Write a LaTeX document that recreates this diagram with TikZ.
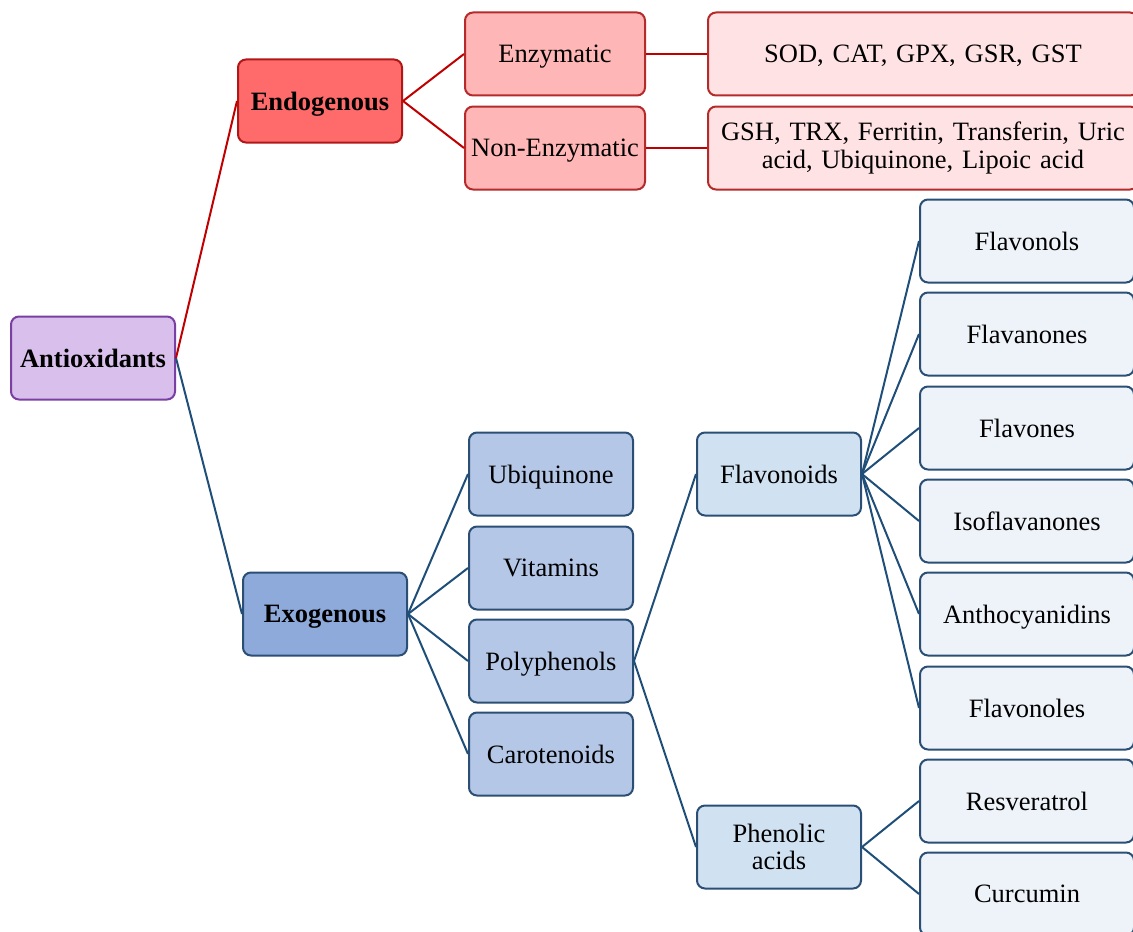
\documentclass[tikz,border=0pt]{standalone}
\usepackage{fontspec}
\setmainfont{Liberation Serif}
\usepackage{tikz}
\usetikzlibrary{positioning}
\definecolor{rootfill}{HTML}{D9BFEC}
\definecolor{rootline}{HTML}{7A3FA3}
\definecolor{endofill}{HTML}{FF6B6B}
\definecolor{endoline}{HTML}{B01818}
\definecolor{enzfill}{HTML}{FFB6B6}
\definecolor{enzline}{HTML}{B52A2A}
\definecolor{itemfill}{HTML}{FFE3E4}
\definecolor{redlink}{HTML}{C00000}
\definecolor{exofill}{HTML}{8EAADB}
\definecolor{exoline}{HTML}{2B4F74}
\definecolor{subfill}{HTML}{B4C7E7}
\definecolor{flavfill}{HTML}{D0E1F2}
\definecolor{leaffill}{HTML}{EEF3FA}
\definecolor{bluelink}{HTML}{1F4E79}
\tikzset{
	box/.style={rectangle, rounded corners=4pt, line width=1pt, minimum width=82pt, minimum height=41.5pt, align=center, inner sep=2pt, text depth=0pt, font=\fontsize{13.25}{13.6}\selectfont},
	rootbox/.style={box, draw=rootline, fill=rootfill, font=\fontsize{13.25}{13.6}\selectfont\bfseries},
	endobox/.style={box, draw=endoline, fill=endofill, font=\fontsize{13.25}{13.6}\selectfont\bfseries},
	enzbox/.style={box, draw=enzline, fill=enzfill, minimum width=90pt},
	itembox/.style={box, draw=enzline, fill=itemfill, minimum width=215pt, text width=205pt},
	exobox/.style={box, draw=exoline, fill=exofill, font=\fontsize{13.25}{13.6}\selectfont\bfseries},
	subbox/.style={box, draw=exoline, fill=subfill},
	flavbox/.style={box, draw=exoline, fill=flavfill, text width=76pt},
	leafbox/.style={box, draw=exoline, fill=leaffill, minimum width=107pt},
	redline/.style={draw=redlink, line width=1pt},
	blueline/.style={draw=bluelink, line width=1pt}
}

\begin{document}
\begin{tikzpicture}[x=0.5pt, y=-0.5pt]
	\clip (0,0) rectangle (1133,931);
	
	% Wurzel und erste Ebene
	\node[rootbox] (antiox) at (93,358) {Antioxidants};
	\node[endobox] (endo) at (320,101) {Endogenous};
	\node[exobox] (exo) at (325,614) {Exogenous};
	
	% Endogene Zweige
	\node[enzbox] (enz) at (555,54) {Enzymatic};
	\node[enzbox] (nonenz) at (555,148) {Non-Enzymatic};
	\node[itembox] (enzlist) at (923,54) {SOD, CAT, GPX, GSR, GST};
	\node[itembox, text depth=] (nonenzlist) at (923,148) {GSH, TRX, Ferritin, Transferin, Uric\\acid, Ubiquinone, Lipoic acid};
	
	% Exogene Zweige
	\node[subbox] (ubiq) at (551,474) {Ubiquinone};
	\node[subbox] (vit) at (551,568) {Vitamins};
	\node[subbox] (poly) at (551,661) {Polyphenols};
	\node[subbox] (carot) at (551,754) {Carotenoids};
	\node[flavbox] (flavo) at (779,474) {Flavonoids};
	\node[flavbox, text depth=] (phenol) at (779,847) {Phenolic\\acids};
	
	% Rechte Spalte
	\node[leafbox] (flavonols) at (1027,241) {Flavonols};
	\node[leafbox] (flavanones) at (1027,334) {Flavanones};
	\node[leafbox] (flavones) at (1027,428) {Flavones};
	\node[leafbox] (isoflav) at (1027,521) {Isoflavanones};
	\node[leafbox] (antho) at (1027,614) {Anthocyanidins};
	\node[leafbox] (flavonoles) at (1027,708) {Flavonoles};
	\node[leafbox] (resv) at (1027,801) {Resveratrol};
	\node[leafbox] (curc) at (1027,894) {Curcumin};
	
	% Verbindungen
	\draw[redline] (antiox.east) -- (endo.west);
	\draw[blueline] (antiox.east) -- (exo.west);
	\draw[redline] (endo.east) -- (enz.west);
	\draw[redline] (endo.east) -- (nonenz.west);
	\draw[redline] (enz.east) -- (enzlist.west);
	\draw[redline] (nonenz.east) -- (nonenzlist.west);
	\foreach \n in {ubiq,vit,poly,carot}
		\draw[blueline] (exo.east) -- (\n.west);
	\draw[blueline] (poly.east) -- (flavo.west);
	\draw[blueline] (poly.east) -- (phenol.west);
	\foreach \n in {flavonols,flavanones,flavones,isoflav,antho,flavonoles}
		\draw[blueline] (flavo.east) -- (\n.west);
	\draw[blueline] (phenol.east) -- (resv.west);
	\draw[blueline] (phenol.east) -- (curc.west);
	
\end{tikzpicture}
\end{document}
